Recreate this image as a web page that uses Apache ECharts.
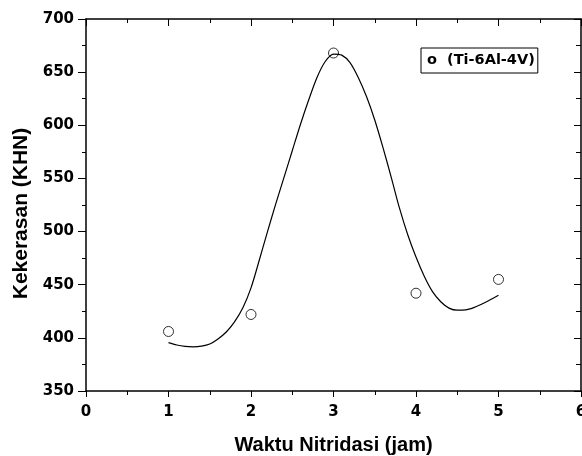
<!DOCTYPE html>
<html>
<head>
<meta charset="utf-8">
<script src="https://cdn.jsdelivr.net/npm/echarts@6/dist/echarts.min.js"></script>
<style>
html,body{margin:0;padding:0;background:#fff;overflow:hidden;width:582px;height:456px;}
#chart{position:absolute;left:0;top:0;width:582px;height:456px;}
</style>
</head>
<body>
<div id="chart"></div>
<script>
// Measured points (x: hours, y: KHN)
const pointX = [1, 2, 3, 4, 5];
const pointY = [406, 422, 668, 442, 455];

// Fitted curve
const curveX = [1.0, 1.1, 1.2, 1.3, 1.4, 1.5, 1.6, 1.7, 1.8, 1.9, 2.0, 2.1, 2.2, 2.3, 2.4, 2.5, 2.6, 2.7, 2.8, 2.9, 3.0, 3.1, 3.2, 3.3, 3.4, 3.5, 3.6, 3.7, 3.8, 3.9, 4.0, 4.1, 4.2, 4.3, 4.4, 4.5, 4.6, 4.7, 4.8, 4.9, 5.0];
const curveY = [395.5, 393.3, 392, 391.6, 392.2, 394.2, 399, 405.5, 415, 428, 447, 473, 500, 526, 551, 576, 601, 624, 645, 660, 667, 666, 659, 645, 627, 605, 579, 551, 522, 497, 476, 458, 443.5, 434, 428, 426, 426.3, 428.5, 431.8, 435.8, 440];

const seriesName = '(Ti-6Al-4V)';
const xTitle = 'Waktu Nitridasi (jam)';
const yTitle = 'Kekerasan (KHN)';
const xMin = 0, xMax = 6, xStep = 1;
const yMin = 350, yMax = 700, yStep = 50;

const tickFont = 'DejaVu Sans';
const titleFont = 'Liberation Sans';

const chart = echarts.init(document.getElementById('chart'), null, {renderer: 'canvas', width: 582, height: 456});

const axisLine = {show: true, onZero: false, lineStyle: {color: '#000', width: 1.5}};

const option = {
  animation: false,
  backgroundColor: '#fff',
  grid: {left: 86, right: 1, top: 19, bottom: 65, containLabel: false, outerBoundsMode: 'none'},
  legend: {
    show: true,
    left: 421, top: 48,
    orient: 'horizontal',
    data: [{name: seriesName, icon: 'none'}],
    itemWidth: 0, itemHeight: 0,
    borderColor: '#000', borderWidth: 1,
    padding: [5, 3, 5, 1],
    formatter: function (n) { return 'o  ' + n; },
    textStyle: {fontFamily: tickFont, fontWeight: 'bold', fontSize: 14.5, color: '#000'},
    selectedMode: false
  },
  xAxis: [{
    type: 'value', position: 'bottom',
    min: xMin, max: xMax, interval: xStep,
    axisLine: axisLine,
    axisTick: {show: true, inside: false, length: 6, lineStyle: {color: '#000', width: 1}},
    minorTick: {show: true, splitNumber: 2, length: 4, lineStyle: {color: '#000', width: 1}},
    splitLine: {show: false},
    axisLabel: {show: true, margin: 14, color: '#000', fontFamily: tickFont, fontWeight: 'bold', fontSize: 15},
    name: xTitle, nameLocation: 'middle', nameGap: 44,
    nameTextStyle: {fontFamily: titleFont, fontWeight: 'bold', fontSize: 20, color: '#000'}
  }, {
    type: 'value', position: 'top',
    min: xMin, max: xMax, interval: xStep,
    axisLine: axisLine,
    axisTick: {show: true, inside: true, length: 7, lineStyle: {color: '#000', width: 1}},
    minorTick: {show: true, splitNumber: 2, length: 4, lineStyle: {color: '#000', width: 1}},
    splitLine: {show: false},
    axisLabel: {show: false}
  }],
  yAxis: [{
    type: 'value', position: 'left',
    min: yMin, max: yMax, interval: yStep,
    axisLine: axisLine,
    axisTick: {show: true, inside: false, length: 8, lineStyle: {color: '#000', width: 1}},
    minorTick: {show: true, splitNumber: 2, length: 4, lineStyle: {color: '#000', width: 1}},
    splitLine: {show: false},
    axisLabel: {show: true, margin: 12, color: '#000', fontFamily: tickFont, fontWeight: 'bold', fontSize: 15},
    name: yTitle, nameLocation: 'middle', nameGap: 54, nameRotate: 90,
    nameTextStyle: {fontFamily: titleFont, fontWeight: 'bold', fontSize: 21, color: '#000', padding: [0, 17, 0, 0]}
  }, {
    type: 'value', position: 'right',
    min: yMin, max: yMax, interval: yStep,
    axisLine: axisLine,
    axisTick: {show: true, inside: true, length: 7, lineStyle: {color: '#000', width: 1}},
    minorTick: {show: true, splitNumber: 2, length: 5, lineStyle: {color: '#000', width: 1}},
    splitLine: {show: false},
    axisLabel: {show: false}
  }],
  series: [{
    name: 'fit',
    type: 'line',
    xAxisIndex: 0, yAxisIndex: 0,
    data: curveX.map((x, i) => [x, curveY[i]]),
    smooth: 0.3,
    showSymbol: false,
    symbol: 'none',
    lineStyle: {color: '#000', width: 1.2},
    z: 3,
    silent: true
  }, {
    name: seriesName,
    type: 'scatter',
    xAxisIndex: 0, yAxisIndex: 0,
    data: pointX.map((x, i) => [x, pointY[i]]),
    symbol: 'circle',
    symbolSize: 10,
    itemStyle: {color: '#fff', borderColor: '#000', borderWidth: 1},
    z: 2
  }]
};
chart.setOption(option);
</script>
</body>
</html>
